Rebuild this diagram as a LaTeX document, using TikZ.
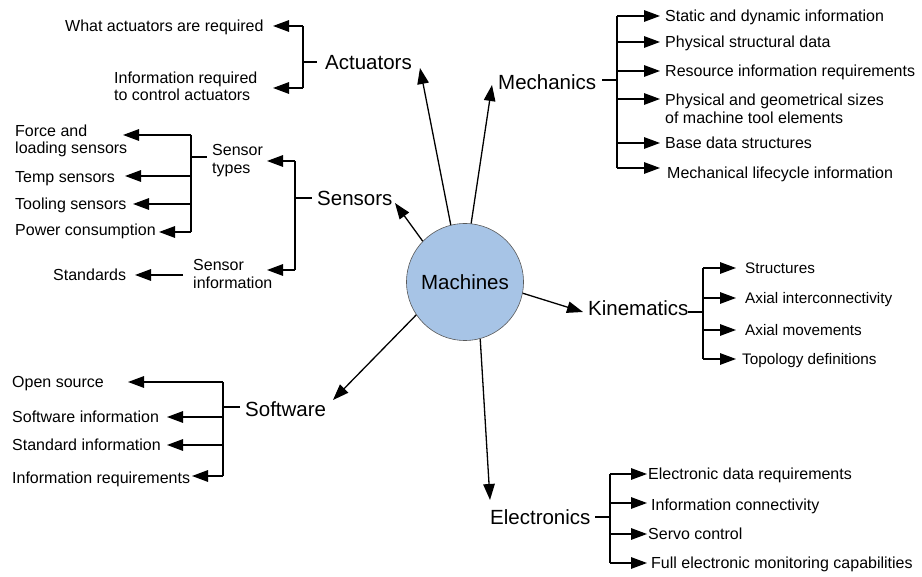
\documentclass[tikz,border=0pt]{standalone}
\usepackage{fontspec}
\setmainfont{Liberation Sans}
\usetikzlibrary{arrows.meta}
\tikzset{
  lbl/.style={font=\fontsize{16}{17}\selectfont, inner sep=0pt, anchor=base west, align=left},
  klbl/.style={font=\fontsize{15.3}{17}\selectfont, inner sep=0pt, anchor=base west, align=left},
  big/.style={font=\fontsize{20.5}{24}\selectfont, inner sep=0pt, anchor=base west},
  ln/.style={line width=1.5pt},
  arr/.style={line width=1.5pt, -{Triangle[length=16pt,width=11.5pt]}},
  rad/.style={line width=1.3pt, -{Triangle[length=16pt,width=11.5pt]}},
  hub/.style={circle, draw=black!65, line width=0.6pt, fill=hubblue, minimum size=117pt, inner sep=0pt, font=\fontsize{20.5}{24}\selectfont}
}
\definecolor{hubblue}{RGB}{167,196,230}
\begin{document}
\begin{tikzpicture}[x=1pt,y=-1pt]
\useasboundingbox (0,0) rectangle (922,577);
% hub
\node[hub] (M) at (465,282) {Machines};

% ---------- Actuators ----------
\node[big] (act) at (325,69.3) {Actuators};
\node[lbl] (what) at (65,31.5) {What actuators are required};
\node[lbl, font=\fontsize{16}{17}\selectfont] (inf) at (114,100.5) {Information required\\to control actuators};
\coordinate (aT) at (303,26); \coordinate (aB) at (303,88); \coordinate (aM) at (303,62);
\coordinate (aS) at (317,62);
\coordinate (aWt) at (273,26); \coordinate (aIt) at (273,88);
\draw[ln] (aT) -- (aB);
\draw[ln] (aM) -- (aS);
\draw[arr] (aT) -- (aWt);
\draw[arr] (aB) -- (aIt);

% ---------- Sensors ----------
\node[big] (sens) at (317,205.3) {Sensors};
\node[lbl, font=\fontsize{16}{18}\selectfont] (stypes) at (212,173.5) {Sensor\\types};
\node[lbl, font=\fontsize{16}{18}\selectfont] (sinfo) at (193,288.5) {Sensor\\information};
\node[lbl] (force) at (15,153.5) {Force and\\loading sensors};
\node[lbl] (temp) at (15,182.5) {Temp sensors};
\node[lbl] (tool) at (15,209.5) {Tooling sensors};
\node[lbl] (power) at (15,235.5) {Power consumption};
\node[lbl] (stand) at (53,280.5) {Standards};
% bracket 2
\coordinate (s2T) at (295,161); \coordinate (s2B) at (295,270); \coordinate (s2M) at (295,198);
\coordinate (s2S) at (312,198);
\coordinate (s2a) at (267,161); \coordinate (s2b) at (267,270);
\draw[ln] (s2T) -- (s2B);
\draw[ln] (s2M) -- (s2S);
\draw[arr] (s2T) -- (s2a);
\draw[arr] (s2B) -- (s2b);
% bracket 1
\coordinate (s1T) at (191,135); \coordinate (s1B) at (191,232); \coordinate (s1M) at (191,157);
\coordinate (s1S) at (207,157);
\coordinate (s1c) at (191,176); \coordinate (s1d) at (191,204);
\coordinate (fa) at (123,135); \coordinate (ta) at (125,176); \coordinate (toa) at (133,204); \coordinate (pa) at (159,232);
\draw[ln] (s1T) -- (s1B);
\draw[ln] (s1M) -- (s1S);
\draw[arr] (s1T) -- (fa);
\draw[arr] (s1c) -- (ta);
\draw[arr] (s1d) -- (toa);
\draw[arr] (s1B) -- (pa);
\coordinate (stS) at (183,275); \coordinate (stA) at (135,275);
\draw[arr] (stS) -- (stA);

% ---------- Mechanics ----------
\node[big] (mech) at (498,89.3) {Mechanics};
\coordinate (mS) at (602,80); \coordinate (mM) at (617,80);
\coordinate (mT) at (617,16); \coordinate (mB) at (617,168);
\draw[ln] (mS) -- (mM);
\draw[ln] (mT) -- (mB);
\foreach \y/\n in {16/1,42/2,71/3,99/4,143/5,168/6}{
  \coordinate (mj\n) at (617,\y); \coordinate (mt\n) at (660,\y);
  \draw[arr] (mj\n) -- (mt\n);
}
\node[lbl] (m1) at (665,21.5) {Static and dynamic information};
\node[lbl] (m2) at (665,47.5) {Physical structural data};
\node[lbl] (m3) at (665,76.5) {Resource information requirements};
\node[lbl, font=\fontsize{16}{18}\selectfont] (m4) at (665,123.5) {Physical and geometrical sizes\\of machine tool elements};
\node[lbl] (m5) at (665,148.5) {Base data structures};
\node[lbl] (m6) at (667,178.5) {Mechanical lifecycle information};

% ---------- Kinematics ----------
\node[big] (kin) at (588,315.3) {Kinematics};
\coordinate (kS) at (688,312); \coordinate (kM) at (703,312);
\coordinate (kT) at (703,268); \coordinate (kB) at (703,359);
\draw[ln] (kS) -- (kM);
\draw[ln] (kT) -- (kB);
\foreach \y/\n in {268/1,298/2,330/3,359/4}{
  \coordinate (kj\n) at (703,\y); \coordinate (kt\n) at (736,\y);
  \draw[arr] (kj\n) -- (kt\n);
}
\node[klbl] (k1) at (745,273.5) {Structures};
\node[klbl] (k2) at (745,303.5) {Axial interconnectivity};
\node[klbl] (k3) at (745,335.5) {Axial movements};
\node[klbl] (k4) at (742,364.5) {Topology definitions};

% ---------- Electronics ----------
\node[big] (elec) at (490,524.3) {Electronics};
\coordinate (eS) at (595,517); \coordinate (eM) at (610,517);
\coordinate (eT) at (610,474); \coordinate (eB) at (610,563);
\draw[ln] (eS) -- (eM);
\draw[ln] (eT) -- (eB);
\foreach \y/\n in {474/1,503/2,534/3,563/4}{
  \coordinate (ej\n) at (610,\y); \coordinate (et\n) at (647,\y);
  \draw[arr] (ej\n) -- (et\n);
}
\node[lbl] (e1) at (648,479.5) {Electronic data requirements};
\node[lbl] (e2) at (651,510.5) {Information connectivity};
\node[lbl] (e3) at (648,539.5) {Servo control};
\node[lbl] (e4) at (651,568.5) {Full electronic monitoring capabilities};

% ---------- Software ----------
\node[big] (soft) at (245,416.3) {Software};
\coordinate (wS) at (240,407); \coordinate (wM) at (223,407);
\coordinate (wT) at (223,382); \coordinate (wB) at (223,476);
\draw[ln] (wS) -- (wM);
\draw[ln] (wT) -- (wB);
\coordinate (wj2) at (223,417); \coordinate (wj3) at (223,445);
\coordinate (wa1) at (128,382); \coordinate (wa2) at (167,417); \coordinate (wa3) at (167,445); \coordinate (wa4) at (192,476);
\draw[arr] (wT) -- (wa1);
\draw[arr] (wj2) -- (wa2);
\draw[arr] (wj3) -- (wa3);
\draw[arr] (wB) -- (wa4);
\node[lbl] (w1) at (12,387.5) {Open source};
\node[lbl] (w2) at (12,422.5) {Software information};
\node[lbl] (w3) at (12,450.5) {Standard information};
\node[lbl] (w4) at (12,483.5) {Information requirements};

% ---------- radial arrows ----------
\coordinate (tAct) at (420,68);
\coordinate (tMech) at (492,85);
\coordinate (tSens) at (395,203);
\coordinate (tKin) at (583,312);
\coordinate (tElec) at (490,500);
\coordinate (tSoft) at (333,400);
\draw[rad] (M.104) -- (tAct);
\draw[rad] (M.84) -- (tMech);
\draw[rad] (M.136) -- (tSens);
\draw[rad] (M.-11) -- (tKin);
\draw[rad] (M.-75) -- (tElec);
\draw[rad] (M.214) -- (tSoft);
\end{tikzpicture}
\end{document}
